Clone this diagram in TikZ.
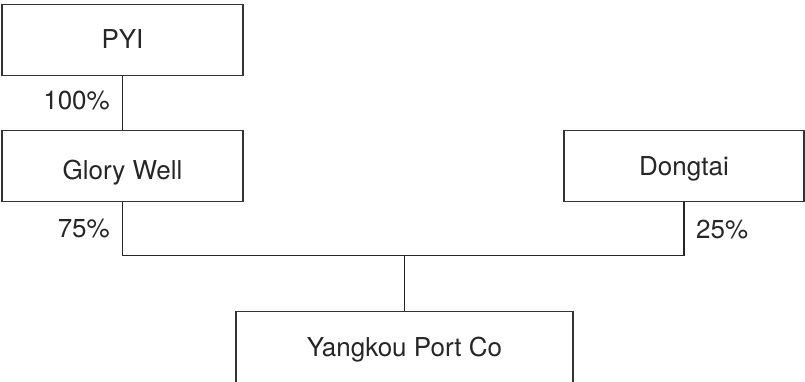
\documentclass[tikz,border=0pt]{standalone}
\usepackage{fontspec}
\setmainfont{TeX Gyre Heros}
\begin{document}
\begin{tikzpicture}[x=1pt,y=-1pt,
  box/.style={draw=black!80, line width=1.4pt, inner sep=0pt, text=black!85,
    font=\fontsize{26}{30}\selectfont},
  pct/.style={inner sep=0pt, text=black!85, font=\fontsize{26}{30}\selectfont},
  link/.style={draw=black!85, line width=1.2pt}]
\useasboundingbox (0,0) rectangle (805,382);
\clip (0,0) rectangle (805,382);
\node[box, anchor=north, minimum width=241pt, text height=44pt, text depth=27pt] (pyi) at (122.5,4) {PYI};
\node[box, anchor=north, minimum width=241pt, text height=49pt, text depth=22pt] (glory) at (122.5,130) {Glory Well};
\node[box, anchor=north, minimum width=240pt, text height=45pt, text depth=26pt] (dong) at (684,130) {Dongtai};
\node[box, anchor=north, minimum width=337pt, text height=44.5pt, text depth=60pt] (yk) at (404.5,311) {Yangkou Port Co};
\coordinate (junc) at (404.5,255.5);
\draw[link] (pyi.south) -- (glory.north);
\draw[link] (glory.south) |- (junc) -| (dong.south);
\draw[link] (junc) -- (yk.north);
\node[pct, anchor=base east] (p100) at (110,110) {100\%};
\node[pct, anchor=base east] (p75) at (110,237) {75\%};
\node[pct, anchor=base west] (p25) at (696,238) {25\%};
\end{tikzpicture}
\end{document}
